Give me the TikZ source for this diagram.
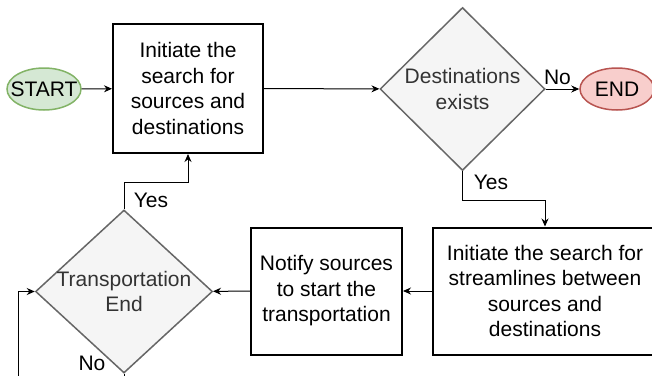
\documentclass[tikz,border=0pt]{standalone}
\usepackage{fontspec}
\setmainfont{Liberation Sans}
\usetikzlibrary{shapes.geometric,arrows.meta}
\definecolor{startfill}{HTML}{D5E8D4}
\definecolor{startline}{HTML}{82B366}
\definecolor{endfill}{HTML}{F8CECC}
\definecolor{endline}{HTML}{B85450}
\definecolor{decfill}{HTML}{F5F5F5}
\definecolor{decline}{HTML}{666666}
\definecolor{dectext}{HTML}{333333}
\tikzset{
  base/.style={font=\fontsize{21}{25.5}\selectfont},
  terminal/.style={base, ellipse, draw, line width=1.5pt, inner sep=0pt, minimum width=74pt, minimum height=42pt},
  procbox/.style={base, rectangle, draw, line width=2pt, align=center, inner sep=0pt},
  decision/.style={diamond, draw=decline, fill=decfill, line width=1.5pt, inner sep=0pt, aspect=1},
  dectxt/.style={base, text=dectext, align=center},
  arr/.style={-{Stealth[length=8pt,width=7pt]}, line width=1pt},
  lbl/.style={base, inner sep=0pt}
}
\begin{document}
\begin{tikzpicture}[x=1pt,y=-1pt]
\useasboundingbox (0,0) rectangle (652,375);
\fill[white] (0,0) rectangle (652,375);
% nodes
\node[terminal, draw=startline, fill=startfill] (start) at (44,89) {\makebox[0pt]{START}};
\node[procbox, minimum width=150pt, minimum height=129pt] (b1) at (188,88.5) {Initiate the\\search for\\sources and\\destinations};
\node[decision, minimum width=165pt, minimum height=163pt, label={[dectxt]center:{Destinations\\exists}}] (d1) at (462.5,89) {};
\node[terminal, draw=endline, fill=endfill] (end) at (617,89) {\makebox[0pt]{END}};
\node[procbox, minimum width=224pt, minimum height=127pt] (b3) at (545,291) {Initiate the search for\\streamlines between\\sources and\\destinations};
\node[procbox, minimum width=151pt, minimum height=127pt] (b2) at (326.5,291) {Notify sources\\to start the\\transportation};
\node[decision, minimum width=177pt, minimum height=163pt, label={[dectxt]center:{Transportation\\End}}] (d2) at (124,291.5) {};
% connectors
\draw[arr] (start) -- (b1);
\draw[arr] (b1) -- (d1);
\draw[arr] (d1) -- (end) node[lbl, pos=0.35, above=4pt] (no1) {No};
\coordinate (y1) at (462.5,200);
\draw[arr] (d1.south) -- (y1) -| (b3.north);
\node[lbl] (yes1) at (491,182) {Yes};
\draw[arr] (b3) -- (b2);
\draw[arr] (b2) -- (d2);
\coordinate (y2) at (124,182);
\draw[arr] (d2.north) -- (y2) -| (b1.south);
\node[lbl] (yes2) at (151,200) {Yes};
\coordinate (n1) at (124,395);
\coordinate (n2) at (18,395);
\draw[arr] (d2.south) -- (n1) -- (n2) |- (d2.west);
\node[lbl] (no2) at (92,363) {No};
\end{tikzpicture}
\end{document}
